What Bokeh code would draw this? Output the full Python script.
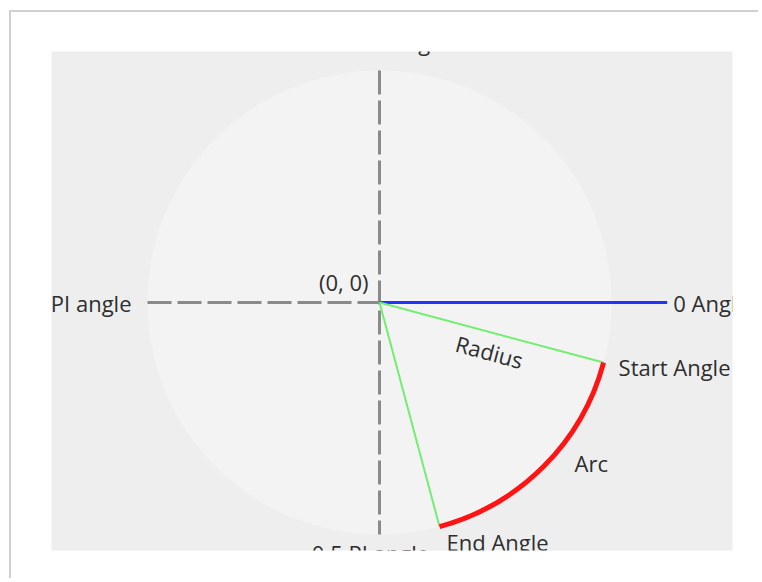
import numpy as np
from bokeh.plotting import figure
from bokeh.models import Range1d
from bokeh.core.properties import value
from bokeh.embed import file_html
from bokeh.resources import INLINE

# ---- data ----
radius = 1.0
start_angle_deg = -15.0
end_angle_deg = -75.0
zero_line_length = 1.24
origin_label = "(0, 0)"
zero_label = "0 Angle"
half_pi_label = "0.5 PI angle"
pi_label = "PI angle"
three_half_pi_label = "1.5 PI angle"
radius_label = "Radius"
start_label = "Start Angle"
arc_label = "Arc"
end_label = "End Angle"

# ---- geometry of the frame (pixels) ----
PX = 232.0            # pixels per data unit
FW, FH = 681, 499     # frame size
CX, CY = 328, 251     # centre inside frame (from left/top)
W, H = 751, 570

p = figure(width=W, height=H, output_backend="svg", toolbar_location=None,
           x_range=Range1d(-CX / PX, (FW - CX) / PX),
           y_range=Range1d(-(FH - CY) / PX, CY / PX),
           min_border_left=40, min_border_top=39,
           min_border_right=W - 40 - FW, min_border_bottom=H - 39 - FH,
           background_fill_color="#eeeeee", border_fill_color="white",
           outline_line_color=None,
           styles={"box-shadow": "-2px -2px 0 0 #d0d0d0",
                   "clip-path": "inset(-4px 4px 4px -4px)",
                   "margin-left": "11px", "margin-top": "12px"})
p.axis.visible = False
p.grid.visible = False

sa = np.radians(start_angle_deg)
ea = np.radians(end_angle_deg)

# background circle
p.circle(x=[0], y=[0], radius=radius, fill_color="#f3f3f3", line_color=None)

# dashed axes
p.segment(x0=[-radius, 0], y0=[0, radius], x1=[0, 0], y1=[0, -radius],
          line_color="#8a8a8a", line_width=3, line_dash="24 6")

# zero-angle line
p.segment(x0=[0], y0=[0], x1=[zero_line_length * radius], y1=[0],
          line_color="#2233ff", line_width=3)

# radius lines
sx, sy = radius * np.cos(sa), radius * np.sin(sa)
ex, ey = radius * np.cos(ea), radius * np.sin(ea)
p.segment(x0=[0, 0], y0=[0, 0], x1=[sx, ex], y1=[sy, ey],
          line_color="#72ee72", line_width=2)

# arc
p.arc(x=[0], y=[0], radius=radius, start_angle=ea, end_angle=sa,
      direction="anticlock", line_color="#ff1414", line_width=5)

font = value("Open Sans")
fs = "22px"
tc = "#2e2e2e"

def label(x, y, t, align, baseline, xo=0, yo=0, angle=0.0):
    p.text(x=[x], y=[y], text=[t], text_align=align, text_baseline=baseline,
           x_offset=xo, y_offset=yo, angle=angle, text_font=font,
           text_font_size=fs, text_color=tc)

label(0, 0, origin_label, "right", "bottom", -11, -6)
label(zero_line_length * radius, 0, zero_label, "left", "middle", 6, 0)
label(-radius, 0, pi_label, "right", "middle", -16, 0)
label(0, radius, three_half_pi_label, "center", "alphabetic", 10, -29)
label(0, -radius, half_pi_label, "center", "top", -9, 3)

mx, my = 0.5 * sx, 0.5 * sy
label(mx, my, radius_label, "center", "middle", -2, 19, angle=sa)
label(sx, sy, start_label, "left", "middle", 15, 4)
ma = (sa + ea) / 2
label(radius * np.cos(ma), radius * np.sin(ma), arc_label, "left", "middle", 31, -4)
label(ex, ey, end_label, "left", "top", 7, 0)

open("out.html", "w").write(file_html(p, INLINE))
